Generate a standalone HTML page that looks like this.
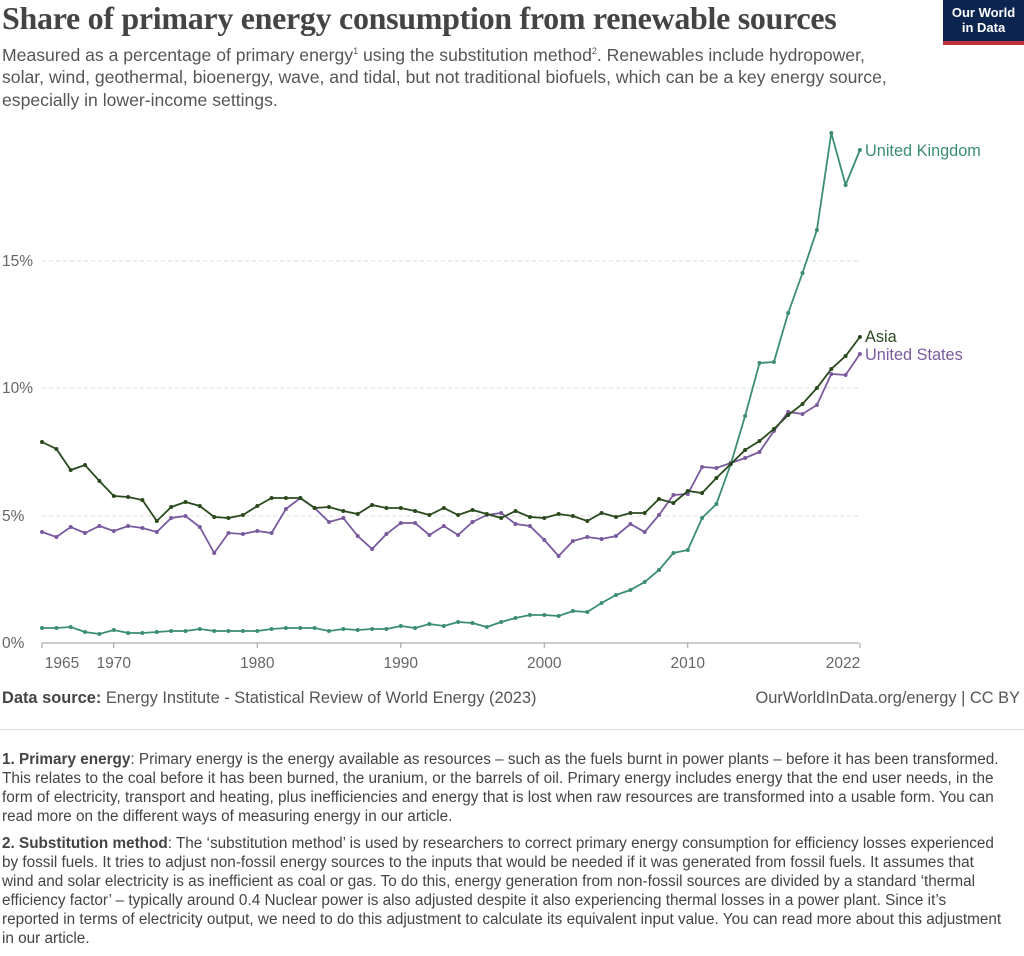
<!DOCTYPE html>
<html><head><meta charset="utf-8"><style>
body{margin:0;width:1024px;height:942px;background:#fff;overflow:hidden;font-family:"Liberation Sans",sans-serif;position:relative}
.t{position:absolute;white-space:nowrap}
#title{left:2px;top:0px;font-family:"Liberation Serif",serif;font-size:32px;font-weight:bold;color:#444;letter-spacing:-0.3px}
#sub{left:2px;top:40px;font-size:17.6px;color:#555;line-height:22.5px}
#logo{position:absolute;left:943px;top:0;width:81px;background:#0b2550;border-bottom:4px solid #c0303a;color:#fff;font-weight:bold;font-size:13px;line-height:15px;text-align:center;padding-top:5px;box-sizing:content-box;height:36px}
.src{top:689px;font-size:16.4px;color:#555}
#fn{position:absolute;left:2px;top:750px;width:1022px;font-size:15.3px;color:#444;line-height:19px;white-space:nowrap}
#fn p{margin:0 0 8px 0}
</style></head><body>
<div class="t" id="title">Share of primary energy consumption from renewable sources</div>
<div class="t" id="sub">Measured as a percentage of primary energy<sup style="font-size:9px">1</sup> using the substitution method<sup style="font-size:9px">2</sup>. Renewables include hydropower,<br>solar, wind, geothermal, bioenergy, wave, and tidal, but not traditional biofuels, which can be a key energy source,<br>especially in lower-income settings.</div>
<div id="logo">Our World<br>in Data</div>
<svg id="c" width="1024" height="680" style="position:absolute;left:0;top:0"></svg>
<div class="t src" style="left:2px"><b style="color:#444">Data source:</b> Energy Institute - Statistical Review of World Energy (2023)</div>
<div class="t src" style="right:4px">OurWorldInData.org/energy | CC BY</div>
<div style="position:absolute;left:0;top:729px;width:1024px;height:1px;background:#ddd"></div>
<div id="fn"><p><b>1. Primary energy</b>: Primary energy is the energy available as resources – such as the fuels burnt in power plants – before it has been transformed.<br>This relates to the coal before it has been burned, the uranium, or the barrels of oil. Primary energy includes energy that the end user needs, in the<br>form of electricity, transport and heating, plus inefficiencies and energy that is lost when raw resources are transformed into a usable form. You can<br>read more on the different ways of measuring energy in our article.</p><p><b>2. Substitution method</b>: The ‘substitution method’ is used by researchers to correct primary energy consumption for efficiency losses experienced<br>by fossil fuels. It tries to adjust non-fossil energy sources to the inputs that would be needed if it was generated from fossil fuels. It assumes that<br>wind and solar electricity is as inefficient as coal or gas. To do this, energy generation from non-fossil sources are divided by a standard ‘thermal<br>efficiency factor’ – typically around 0.4 Nuclear power is also adjusted despite it also experiencing thermal losses in a power plant. Since it’s<br>reported in terms of electricity output, we need to do this adjustment to calculate its equivalent input value. You can read more about this adjustment<br>in our article.</p></div>
<script>
var asia=[442,449,470,465,481,496,497,500,521,507,502,506,517,518,515,506,498,498,498,508,507,511,514,505,508,508,511,515,508,515,510,514,518,511,517,518,514,516,521,513,517,513,513,499,503,491,493,478,464,450,441,429,415,404,388,369,356,337];
var us=[532,537,527,533,526,531,526,528,532,518,516,527,553,533,534,531,533,509,498,508,522,518,536,549,534,523,523,535,526,535,522,515,513,524,526,540,556,541,537,539,536,524,532,515,495,494,467,468,463,458,452,431,412,414,405,374,375,354];
var uk=[628,628,627,632,634,630,633,633,632,631,631,629,631,631,631,631,629,628,628,628,631,629,630,629,629,626,628,624,626,622,623,627,622,618,615,615,616,611,612,603,595,590,582,570,553,550,518,504,464,416,363,362,313,273,230,133,185,150];
function X(i){return 42+i*14.35}
var s='';
[[261,'15%'],[388,'10%'],[516,'5%']].forEach(function(g){s+='<line x1="42" x2="859" y1="'+g[0]+'" y2="'+g[0]+'" stroke="#ddd" stroke-dasharray="4,3"/><text x="2" y="'+(g[0]+5)+'" font-size="15.5" fill="#666">'+g[1]+'</text>';});
s+='<text x="2" y="648" font-size="15.5" fill="#666">0%</text>';
s+='<line x1="42" x2="859" y1="643" y2="643" stroke="#999"/>';
[[1965,'1965',62],[1970,'1970'],[1980,'1980'],[1990,'1990'],[2000,'2000'],[2010,'2010'],[2022,'2022',843]].forEach(function(t){var x=X(t[0]-1965);var lx=t[2]||x;s+='<line x1="'+x+'" x2="'+x+'" y1="643" y2="648" stroke="#999"/><text x="'+lx+'" y="668" font-size="15.5" fill="#666" text-anchor="middle">'+t[1]+'</text>';});
function ser(d,c){var p=d.map(function(y,i){return X(i).toFixed(1)+','+y}).join(' ');s+='<polyline points="'+p+'" fill="none" stroke="'+c+'" stroke-width="1.8"/>';d.forEach(function(y,i){s+='<circle cx="'+X(i).toFixed(1)+'" cy="'+y+'" r="2" fill="'+c+'"/>';});}
ser(uk,'#3b8e72');ser(us,'#7a5a9e');ser(asia,'#2a4a1e');
s+='<text x="865" y="156" font-size="16.3" fill="#3b8e72">United Kingdom</text>';
s+='<text x="865" y="342" font-size="16.3" fill="#2a4a1e">Asia</text>';
s+='<text x="865" y="360" font-size="16.3" fill="#7a5a9e">United States</text>';
document.getElementById('c').innerHTML=s;
</script>
</body></html>
